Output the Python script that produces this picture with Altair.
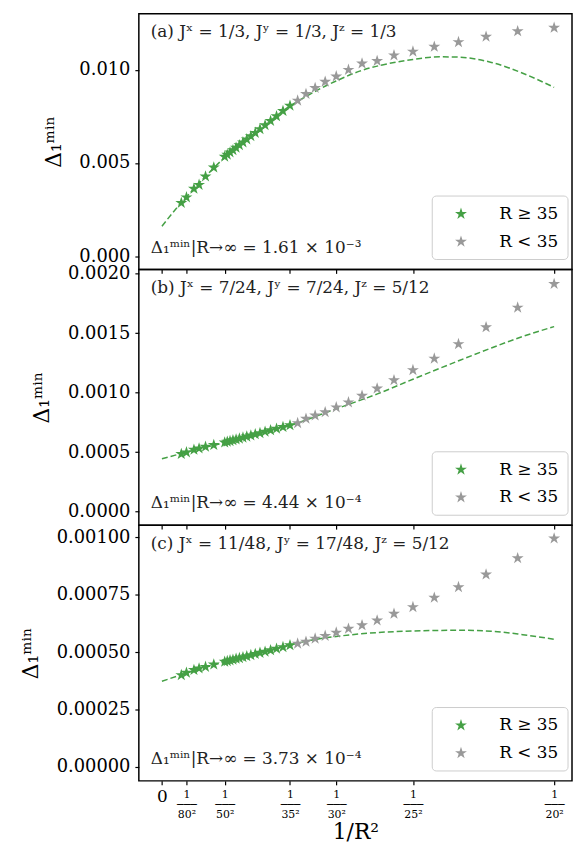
import altair as alt
import pandas as pd

GREEN = "#45a045"
GRAY = "#999999"
SERIF = "DejaVu Serif"
# five-pointed star as a custom symbol path (unit box)
STAR = ("M0,-1L0.2245,-0.309L0.9511,-0.309L0.3633,0.118L0.5878,0.809L0,0.382"
        "L-0.5878,0.809L-0.3633,0.118L-0.9511,-0.309L-0.2245,-0.309Z")

# ---- data ----
R_big = [90, 80, 70, 65, 60, 55, 50, 49, 48, 47, 46, 45, 44, 43, 42, 41, 40, 39, 38, 37, 36, 35]
R_small = [34, 33, 32, 31, 30, 29, 28, 27, 26, 25, 24, 23, 22, 21, 20]

a_big = [0.00286, 0.00316, 0.00362, 0.00383, 0.00428, 0.00476, 0.00534, 0.00545, 0.00557, 0.00569,
         0.00582, 0.00596, 0.00611, 0.00627, 0.00644, 0.00662, 0.00682, 0.00703, 0.00726, 0.00751,
         0.00779, 0.00808]
a_small = [0.00835, 0.00871, 0.00903, 0.00936, 0.00965, 0.01000, 0.01034, 0.01048, 0.01078, 0.01098,
           0.01124, 0.01149, 0.01178, 0.01207, 0.01226]
a_fit_x = [0.0, 0.0001, 0.0002, 0.0003, 0.0004, 0.0005, 0.0006, 0.0008, 0.0009, 0.0010, 0.00111,
           0.00126, 0.00147, 0.0016, 0.00177, 0.0019, 0.0021, 0.0023, 0.0025]
a_fit_y = [0.00161, 0.00265, 0.00358, 0.00448, 0.00530, 0.00601, 0.00665, 0.00797, 0.00848, 0.00895,
           0.00940, 0.00993, 0.01038, 0.01056, 0.01070, 0.01068, 0.01040, 0.00982, 0.00906]

b_big = [0.000484, 0.000498, 0.000520, 0.000531, 0.000545, 0.000560, 0.000581, 0.000587, 0.000593,
         0.000600, 0.000607, 0.000614, 0.000622, 0.000631, 0.000640, 0.000650, 0.000660, 0.000672,
         0.000684, 0.000697, 0.000711, 0.000726]
b_small = [0.000744, 0.000781, 0.000808, 0.000836, 0.000877, 0.000919, 0.000974, 0.001035, 0.001105,
           0.001190, 0.001287, 0.001409, 0.001550, 0.001716, 0.001915]
b_fit_x = [0.0, 0.0002, 0.0004, 0.0006, 0.0008, 0.00111, 0.00137, 0.0016, 0.0019, 0.0021, 0.0023, 0.0025]
b_fit_y = [0.000444, 0.000515, 0.000580, 0.000650, 0.000718, 0.000864, 0.000988, 0.001113, 0.001273,
           0.001376, 0.001473, 0.001556]

c_big = [0.000400, 0.000410, 0.000422, 0.000429, 0.000436, 0.000446, 0.000458, 0.000461, 0.000464,
         0.000467, 0.000471, 0.000474, 0.000478, 0.000482, 0.000487, 0.000492, 0.000497, 0.000502,
         0.000508, 0.000515, 0.000522, 0.000530]
c_small = [0.000537, 0.000545, 0.000559, 0.000571, 0.000585, 0.000602, 0.000617, 0.000638, 0.000667,
           0.000696, 0.000737, 0.000783, 0.000838, 0.000909, 0.000995]
c_fit_x = [0.0, 0.0002, 0.0004, 0.0006, 0.0008, 0.00095, 0.00111, 0.00137, 0.0016, 0.0019, 0.0021, 0.0023, 0.0025]
c_fit_y = [0.000373, 0.000418, 0.000457, 0.000490, 0.000528, 0.000552, 0.000568, 0.000585, 0.000592,
           0.000595, 0.000591, 0.000576, 0.000556]

groups = ["R ≥ 35", "R < 35"]
group_colors = [GREEN, GRAY]
tick_R = [80, 50, 35, 30, 25, 20]

panel_labels = ["(a)  Jˣ = 1/3,  Jʸ = 1/3,  Jᶻ = 1/3",
                "(b)  Jˣ = 7/24,  Jʸ = 7/24,  Jᶻ = 5/12",
                "(c)  Jˣ = 11/48,  Jʸ = 17/48,  Jᶻ = 5/12"]
limit_labels = ["Δ₁ᵐⁱⁿ|R→∞ = 1.61 × 10⁻³",
                "Δ₁ᵐⁱⁿ|R→∞ = 4.44 × 10⁻⁴",
                "Δ₁ᵐⁱⁿ|R→∞ = 3.73 × 10⁻⁴"]

y_domains = [[-0.000707, 0.013016], [-0.000114, 0.002037], [-0.0000607, 0.001053]]
y_ticks = [[0.0, 0.005, 0.010], [0.0, 0.0005, 0.0010, 0.0015, 0.0020],
           [0.0, 0.00025, 0.0005, 0.00075, 0.001]]
y_formats = [".3f", ".4f", ".5f"]
x_domain = [-0.0001472, 0.002614]

big = [a_big, b_big, c_big]
small = [a_small, b_small, c_small]
fit_x = [a_fit_x, b_fit_x, c_fit_x]
fit_y = [a_fit_y, b_fit_y, c_fit_y]

W, H = 437, 258
x_ticks = [0.0] + [1.0 / (r * r) for r in tick_R]


def panel(i, last):
    pts = pd.DataFrame({
        "x": [1.0 / (r * r) for r in R_big] + [1.0 / (r * r) for r in R_small],
        "y": big[i] + small[i],
        "group": [groups[0]] * len(R_big) + [groups[1]] * len(R_small),
    })
    fit = pd.DataFrame({"x": fit_x[i], "y": fit_y[i]})
    xs = alt.Scale(domain=x_domain, nice=False, zero=False)
    ys = alt.Scale(domain=y_domains[i], nice=False, zero=False)
    if last:
        xaxis = alt.Axis(
            values=x_ticks, title="1/R²", titleFont=SERIF, titleFontSize=22,
            titleFontWeight="normal", titleColor="black", titlePadding=2,
            labelExpr="datum.value == 0 ? '0' : ['1', '───', '' + round(sqrt(1/datum.value)) + '²']",
            labelFont=SERIF,
            labelFontSize={"condition": {"test": "datum.value == 0", "value": 17}, "value": 11},
            labelLineHeight=10, labelPadding=4,
            labelOverlap=False, labelFlush=False,
            labelColor="black", tickColor="black", tickSize=4, tickWidth=1.2,
        )
    else:
        xaxis = alt.Axis(values=x_ticks, labels=False, title=None, tickColor="black",
                         tickSize=4, tickWidth=1.2)
    yaxis = alt.Axis(values=y_ticks[i], format=y_formats[i], title="Δ₁ᵐⁱⁿ",
                     titleFont=SERIF, titleFontSize=22, titleFontWeight="normal",
                     titleColor="black", titlePadding=14,
                     labelFont=SERIF, labelFontSize=18, labelPadding=5,
                     labelColor="black", labelFlush=False, labelOverlap=False,
                     tickColor="black", tickSize=4, tickWidth=1.2)
    line = alt.Chart(fit).mark_line(color=GREEN, strokeDash=[6, 3], strokeWidth=1.5,
                                    interpolate="monotone").encode(
        x=alt.X("x:Q", scale=xs, axis=xaxis),
        y=alt.Y("y:Q", scale=ys, axis=yaxis),
    )
    stars = alt.Chart(pts).mark_point(shape=STAR, filled=True, size=160, opacity=1,
                                      strokeWidth=0).encode(
        x=alt.X("x:Q", scale=xs, axis=xaxis),
        y=alt.Y("y:Q", scale=ys, axis=yaxis),
        color=alt.Color("group:N", scale=alt.Scale(domain=groups, range=group_colors), legend=None),
    )
    t1 = alt.Chart(pd.DataFrame({"t": [panel_labels[i]]})).mark_text(
        align="left", baseline="middle", font=SERIF, fontSize=17, color="#222222"
    ).encode(x=alt.value(12), y=alt.value(19), text="t:N")
    t2 = alt.Chart(pd.DataFrame({"t": [limit_labels[i]]})).mark_text(
        align="left", baseline="middle", font=SERIF, fontSize=17, color="#222222"
    ).encode(x=alt.value(12), y=alt.value(H - 22), text="t:N")
    # legend drawn inside the panel
    leg = pd.DataFrame({"label": groups, "color": group_colors})
    box = alt.Chart(leg.head(1)).mark_rect(
        fill="white", fillOpacity=0.8, stroke="#cccccc", strokeWidth=1, cornerRadius=4
    ).encode(x=alt.value(296), x2=alt.value(433), y=alt.value(H - 74), y2=alt.value(H - 10))
    layers = [line, stars, t1, t2, box]
    for k in range(2):
        one = leg.iloc[[k]]
        yy = H - 56 + 28 * k
        layers.append(alt.Chart(one).mark_point(shape=STAR, filled=True, size=160, opacity=1,
                                                strokeWidth=0, color=group_colors[k]).encode(
            x=alt.value(325), y=alt.value(yy)))
        layers.append(alt.Chart(one).mark_text(align="right", baseline="middle", font=SERIF,
                                               fontSize=17, color="black").encode(
            x=alt.value(423), y=alt.value(yy), text="label:N"))
    return alt.layer(*layers).properties(width=W, height=H)


chart = alt.vconcat(panel(0, False), panel(1, False), panel(2, True), spacing=0, bounds="flush")
chart = chart.configure_view(stroke="black", strokeWidth=1.5).configure_axis(
    grid=False, domain=False
).properties(padding={"left": 10, "top": 1, "right": 0, "bottom": 0})

chart.save("out.html", embed_options={"renderer": "svg", "actions": False})
